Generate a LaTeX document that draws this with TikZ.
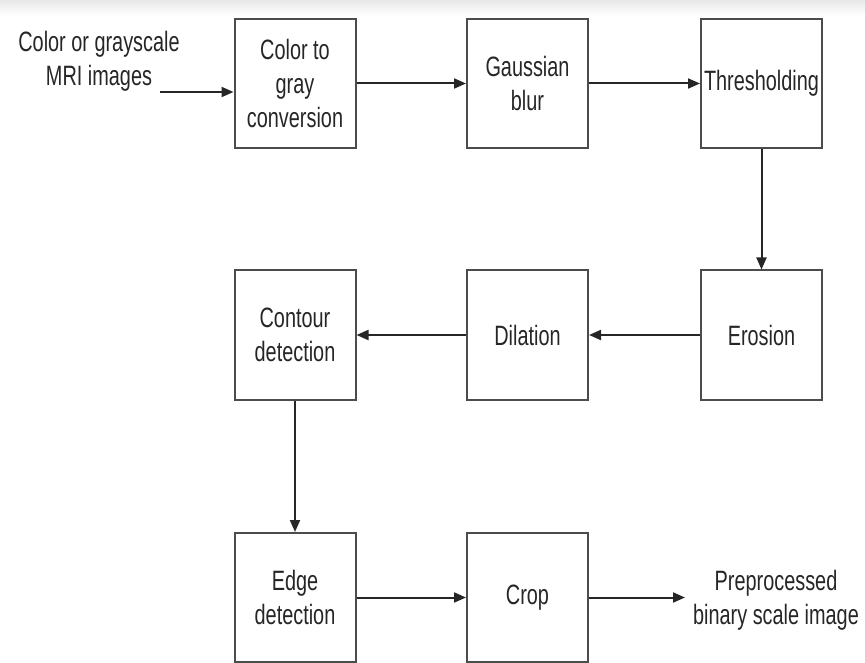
\documentclass[tikz,border=0pt]{standalone}
\usepackage{fontspec}
\setmainfont[FakeStretch=0.71]{Liberation Sans}
\usetikzlibrary{arrows.meta}

\begin{document}
\begin{tikzpicture}[x=1pt,y=1pt]
\tikzstyle{every node}+=[inner sep=0pt, text=black!85, align=center, font=\fontsize{28}{34}\selectfont]
\tikzstyle{stage}=[draw=black!70, line width=2pt, minimum width=121, minimum height=129]
\tikzstyle{flow}=[draw=black!85, line width=2pt, -{Triangle[length=12pt,width=10pt]}]
\useasboundingbox (0,0) rectangle (865,-663);
\shade [top color=black!9, bottom color=white] (0,0) rectangle (865,-16);
% top row
\node (src) at (99,-61.5) {Color or grayscale\\MRI images};
\coordinate (srcend) at (160,-92);
\node [stage] (gray) at (295,-83.5) {Color to\\gray\\conversion};
\node [stage] (blur) at (527.5,-83.5) {Gaussian\\blur};
\node [stage] (thresh) at (761.5,-83.5) {Thresholding};
% middle row
\node [stage] (erode) at (761.5,-335) {Erosion};
\node [stage] (dilate) at (527.5,-335) {Dilation};
\node [stage] (contour) at (295,-335) {Contour\\detection};
% bottom row
\node [stage] (edge) at (295,-597.5) {Edge\\detection};
\node [stage] (crop) at (527.5,-597.5) {Crop};
\node (result) at (776,-600) {Preprocessed\\binary scale image};
\coordinate (resend) at (685,-597.5);
% connectors
\draw [flow] (srcend) -- (srcend -| gray.west);
\draw [flow] (gray) -- (blur);
\draw [flow] (blur) -- (thresh);
\draw [flow] (thresh) -- (erode);
\draw [flow] (erode) -- (dilate);
\draw [flow] (dilate) -- (contour);
\draw [flow] (contour) -- (edge);
\draw [flow] (edge) -- (crop);
\draw [flow] (crop) -- (resend);
\end{tikzpicture}
\end{document}
